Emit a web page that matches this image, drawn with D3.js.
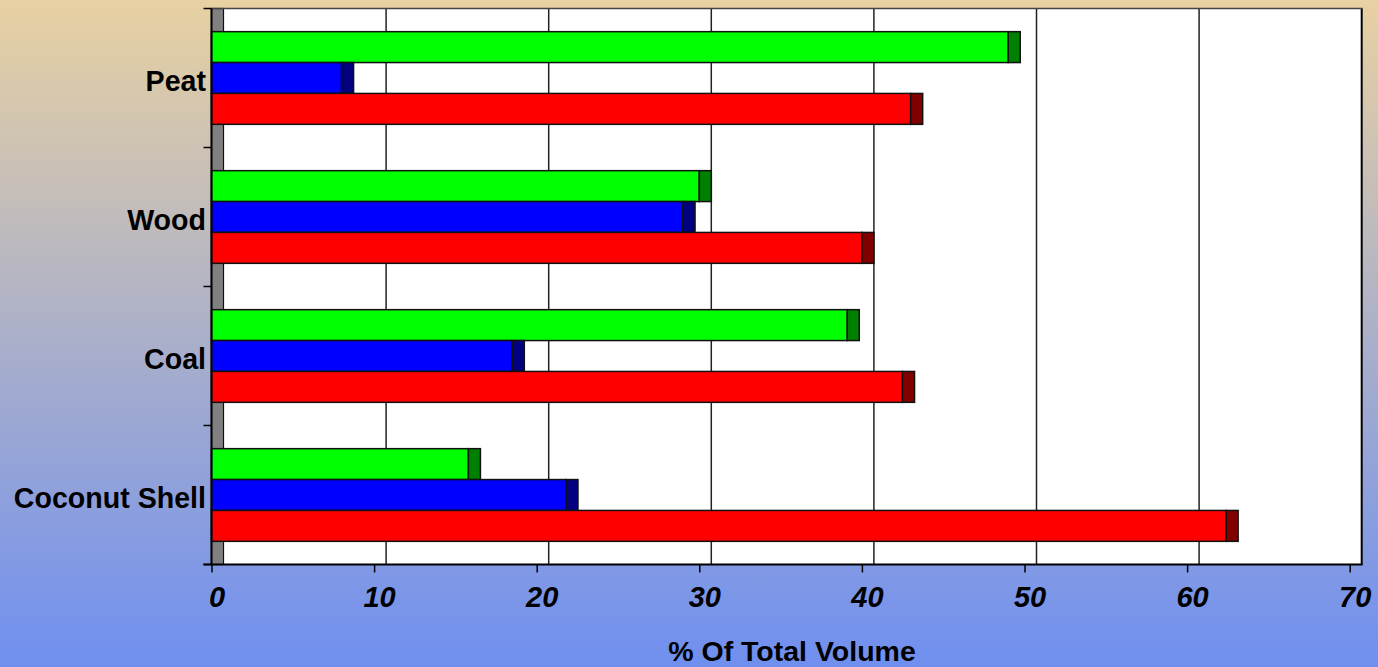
<!DOCTYPE html>
<html>
<head>
<meta charset="utf-8">
<script src="https://cdn.jsdelivr.net/npm/d3@7/dist/d3.min.js"></script>
<style>
  html, body { margin: 0; padding: 0; }
  body { width: 1378px; height: 667px; overflow: hidden; }
  text { font-family: Arial, "Liberation Sans", sans-serif; font-weight: bold; fill: #000; }
</style>
</head>
<body>
<svg id="chart" width="1378" height="667"></svg>
<script>
// ---- data ----
const categories = ["Peat", "Wood", "Coal", "Coconut Shell"];
const seriesNames = ["Series A", "Series B", "Series C"]; // green, blue, red (top to bottom in each group)
const greenValues = [49.0, 30.0, 39.1, 15.8];
const blueValues  = [8.0, 29.0, 18.5, 21.8];
const redValues   = [43.0, 40.0, 42.5, 62.4];
const xTicks = [0, 10, 20, 30, 40, 50, 60, 70];
const xTitle = "% Of Total Volume";

(function () {
// ---- styles ----
const faceColors = ["#00FF00", "#0000FF", "#FF0000"];
const capColors  = ["#008000", "#000080", "#800000"];
const valuesBySeries = [greenValues, blueValues, redValues];

const svg = d3.select("#chart");
const W = 1378, H = 667;

// background gradient
const defs = svg.append("defs");
const grad = defs.append("linearGradient").attr("id", "bg").attr("x1", 0).attr("y1", 0).attr("x2", 0).attr("y2", 1);
grad.append("stop").attr("offset", "0%").attr("stop-color", "#E8D1A2");
grad.append("stop").attr("offset", "100%").attr("stop-color", "#6F8FF0");
svg.append("rect").attr("width", W).attr("height", H).attr("fill", "url(#bg)");

const pLeft = 211.5, pTop = 8.5, pBottom = 564.5;
const depth = 12; // pseudo-3D depth offset in px

const x = d3.scaleLinear().domain([0, 70]).range([pLeft, 1349.7]);
const y = d3.scaleBand().domain(categories).range([pTop, pBottom]).padding(0);
const bw = y.bandwidth();
const barW = bw / 4.5;
const ySeries = d3.scaleBand().domain(seriesNames).range([0.75 * barW, bw - 0.75 * barW]).padding(0);

// back wall (white)
svg.append("rect")
  .attr("x", pLeft + depth).attr("y", pTop)
  .attr("width", x(70) - pLeft).attr("height", pBottom - pTop)
  .attr("fill", "#fff");

// left side wall (gray)
svg.append("rect")
  .attr("x", pLeft).attr("y", pTop)
  .attr("width", depth).attr("height", pBottom - pTop)
  .attr("fill", "#808080").attr("stroke", "#111").attr("stroke-width", 1.2);

// gridlines on back wall
svg.append("g").selectAll("line")
  .data(xTicks.filter(d => d > 0))
  .join("line")
  .attr("x1", d => x(d) + depth).attr("x2", d => x(d) + depth)
  .attr("y1", pTop).attr("y2", pBottom)
  .attr("stroke", d => d === 70 ? "#000" : "#222")
  .attr("stroke-width", d => d === 70 ? 2 : 1.5);

// top border
svg.append("line")
  .attr("x1", pLeft).attr("x2", x(70) + depth + 1)
  .attr("y1", pTop).attr("y2", pTop)
  .attr("stroke", "#444").attr("stroke-width", 1.5);

// bars
const groups = svg.append("g").selectAll("g")
  .data(categories)
  .join("g")
  .attr("transform", d => `translate(0,${y(d)})`);

seriesNames.forEach((s, si) => {
  const vals = valuesBySeries[si];
  groups.append("rect")
    .attr("x", pLeft)
    .attr("y", ySeries(s))
    .attr("width", (d, i) => x(vals[i]) - pLeft)
    .attr("height", ySeries.bandwidth())
    .attr("fill", faceColors[si])
    .attr("stroke", "#111").attr("stroke-width", 1.5);
  groups.append("rect")
    .attr("x", (d, i) => x(vals[i]))
    .attr("y", ySeries(s))
    .attr("width", depth)
    .attr("height", ySeries.bandwidth())
    .attr("fill", capColors[si])
    .attr("stroke", "#111").attr("stroke-width", 1.5);
});

// x axis
const xAxis = d3.axisBottom(x).tickValues(xTicks).tickSize(8).tickSizeOuter(0).tickPadding(14);
const gx = svg.append("g").attr("transform", `translate(0,${pBottom})`).call(xAxis);
gx.selectAll(".domain").attr("stroke", "#000").attr("stroke-width", 2)
  .attr("d", `M${pLeft - 8},0H${x(70) + depth + 1}`);
gx.selectAll(".tick line").attr("stroke", "#000").attr("stroke-width", 1.5);
gx.selectAll(".tick text")
  .attr("font-size", 29).attr("font-style", "italic").attr("font-weight", "bold")
  .attr("font-family", "Arial, 'Liberation Sans', sans-serif")
  .attr("fill", "#000").attr("dx", 5).attr("dy", "0.71em");

// y axis: line plus ticks at category boundaries
const yEdges = categories.map(c => y(c)).concat([pBottom]);
svg.append("line")
  .attr("x1", pLeft).attr("x2", pLeft).attr("y1", pTop).attr("y2", pBottom)
  .attr("stroke", "#000").attr("stroke-width", 2);
svg.append("g").selectAll("line")
  .data(yEdges)
  .join("line")
  .attr("x1", pLeft - 8).attr("x2", pLeft)
  .attr("y1", d => d).attr("y2", d => d)
  .attr("stroke", "#000").attr("stroke-width", 1.5);

// category labels
svg.append("g").selectAll("text")
  .data(categories)
  .join("text")
  .attr("x", 206)
  .attr("y", d => y(d) + bw / 2 + 13)
  .attr("text-anchor", "end")
  .attr("font-size", 28.6)
  .text(d => d);

// x title
svg.append("text")
  .attr("x", 792).attr("y", 661)
  .attr("text-anchor", "middle")
  .attr("font-size", 28.5)
  .text(xTitle);
})();
</script>
</body>
</html>
